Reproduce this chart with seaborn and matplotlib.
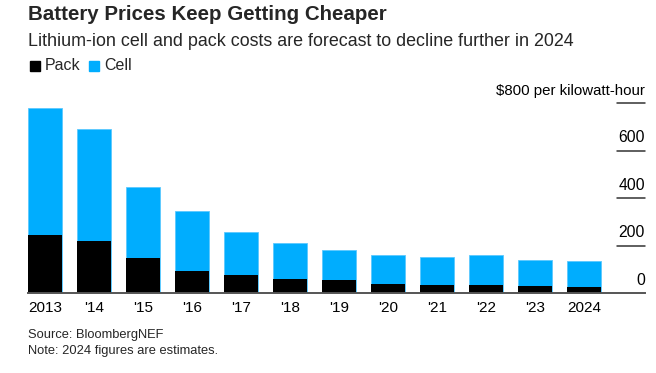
"""
Battery prices stacked bar chart (pack vs cell), Bloomberg style.
"""
import matplotlib
matplotlib.use("Agg")
import matplotlib.pyplot as plt
import seaborn as sns
import pandas as pd

# data ($/kWh)
years = ["2013", "'14", "'15", "'16", "'17", "'18", "'19", "'20", "'21", "'22", "'23", "2024"]
total = [780, 692, 448, 345, 258, 211, 183, 160, 150, 161, 139, 133]
pack = [244, 220, 147, 93, 76, 58, 55, 39, 34, 32, 29, 27]
yticks = [0, 200, 400, 600, 800]

BLUE = "#00adfe"
BLACK = "#000000"

sns.set_theme(style="white")
plt.rcParams["font.family"] = ["Liberation Sans", "DejaVu Sans"]

df = pd.DataFrame({"year": years, "total": total, "pack": pack})

fig = plt.figure(figsize=(6.56, 3.73), dpi=100)
ax = fig.add_axes([28 / 656, 1 - 293 / 373, (645 - 28) / 656, (293 - 103) / 373])

# full bar = pack price; the black part sits on top of it from the baseline
sns.barplot(data=df, x="year", y="total", color=BLUE, width=0.7, saturation=1,
            edgecolor="#5cc8ff", linewidth=0.6, ax=ax)
sns.barplot(data=df, x="year", y="pack", color=BLACK, width=0.7, saturation=1,
            linewidth=0, ax=ax)

ax.set_xlim(-0.35, 12.24)
ax.set_ylim(0, 800)
ax.set_xlabel("")
ax.set_ylabel("")
ax.set_yticks([])
ax.tick_params(axis="x", length=0, pad=6, labelsize=11, colors="#000000")
for s in ["top", "left", "right"]:
    ax.spines[s].set_visible(False)
ax.spines["bottom"].set_color("#555555")
ax.spines["bottom"].set_linewidth(1.4)
ax.set_facecolor("none")

# short tick lines on the right with labels above them
for v in yticks:
    if v > 0:
        ax.axhline(v, xmin=0.955, xmax=1.0, color="#333333", lw=1.1, clip_on=False)
    label = "$800 per kilowatt-hour" if v == 800 else str(v)
    size = 10.8 if v == 800 else 11.3
    ax.text(1.0, v + 22, label, transform=ax.get_yaxis_transform(), ha="right",
            va="bottom", fontsize=size, color="#000000", clip_on=False)

# titles and legend
fig.text(28 / 656, 1 - 15 / 373, "Battery Prices Keep Getting Cheaper", fontsize=14.8,
         fontweight="bold", va="center", ha="left")
fig.text(28 / 656, 1 - 41 / 373,
         "Lithium-ion cell and pack costs are forecast to decline further in 2024",
         fontsize=12.9, va="center", ha="left")
fig.patches.append(plt.Rectangle((30 / 656, 1 - 71 / 373), 10 / 656, 10 / 373,
                                 transform=fig.transFigure, color=BLACK))
fig.text(45 / 656, 1 - 66 / 373, "Pack", fontsize=11.5, va="center", ha="left")
fig.patches.append(plt.Rectangle((89 / 656, 1 - 71 / 373), 10 / 656, 10 / 373,
                                 transform=fig.transFigure, color=BLUE))
fig.text(104 / 656, 1 - 66 / 373, "Cell", fontsize=11.5, va="center", ha="left")

fig.text(28 / 656, 1 - 335 / 373, "Source: BloombergNEF", fontsize=9.3, va="center")
fig.text(28 / 656, 1 - 351 / 373, "Note: 2024 figures are estimates.", fontsize=9.3, va="center")

fig.savefig("out.png", dpi=100)
